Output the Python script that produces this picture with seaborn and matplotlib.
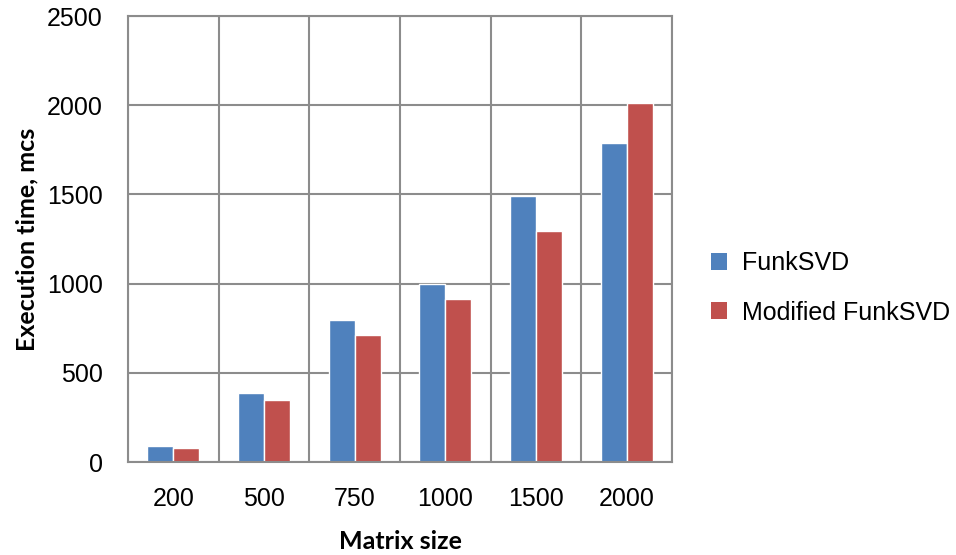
import matplotlib
matplotlib.use("Agg")
import matplotlib.pyplot as plt
import seaborn as sns
import pandas as pd
import numpy as np
from matplotlib.patches import Patch

# データ
sizes = ["200", "500", "750", "1000", "1500", "2000"]
funk_svd = [90, 388, 798, 1000, 1490, 1790]
modified_funk_svd = [80, 347, 712, 912, 1297, 2010]
series_names = ["FunkSVD", "Modified FunkSVD"]
colors = ["#4F81BD", "#C0504D"]

df = pd.DataFrame({
    "size": sizes * 2,
    "time": funk_svd + modified_funk_svd,
    "series": [series_names[0]] * len(sizes) + [series_names[1]] * len(sizes),
})

sns.set_style("white")
plt.rcParams['font.family'] = ['Liberation Sans', 'DejaVu Sans']
plt.rcParams['text.color'] = 'black'
plt.rcParams['xtick.labelcolor'] = 'black'
plt.rcParams['ytick.labelcolor'] = 'black'

fig = plt.figure(figsize=(9.56, 5.55), dpi=100)
ax = fig.add_axes([128/956, 93/555, 544/956, 446/555])

sns.barplot(data=df, x="size", y="time", hue="series", palette=colors,
            order=sizes, hue_order=series_names, width=0.575, gap=0,
            saturation=1, ax=ax, legend=False)

grid_col = "#8C8C8C"
ax.set_ylim(0, 2500)
ax.set_xlim(-0.5, len(sizes) - 0.5)
ax.set_yticks(np.arange(0, 2501, 500))
ax.set_xticks(np.arange(len(sizes)))
ax.set_xticklabels(sizes)
ax.set_xticks(np.arange(-0.5, len(sizes)), minor=True)
ax.tick_params(axis="x", which="major", length=0, pad=18, labelsize=18)
ax.tick_params(axis="x", which="minor", length=8, width=1.5, color=grid_col, direction="out")
ax.tick_params(axis="y", which="major", length=9, width=1.5, color=grid_col, direction="out",
               pad=9, labelsize=18)
ax.grid(axis="y", which="major", color=grid_col, linewidth=1.5)
ax.grid(axis="x", which="minor", color=grid_col, linewidth=1.5)
ax.set_axisbelow(True)
for s in ax.spines.values():
    s.set_color(grid_col)
    s.set_linewidth(1.5)

lab_font = dict(family=["Lato", "DejaVu Sans"], weight="bold", size=18, color="black")
ax.set_xlabel("Matrix size", fontdict=lab_font, labelpad=14)
ax.set_ylabel("Execution time, mcs", fontdict=lab_font, labelpad=6)

handles = [Patch(facecolor=c, edgecolor="none") for c in colors]
fig.legend(handles, series_names, loc="center left", bbox_to_anchor=(688/956, 1 - 288/555),
           frameon=False, fontsize=18, handlelength=0.65, handleheight=0.65,
           handletextpad=0.6, labelspacing=1.0)

fig.savefig("out.png", dpi=100)
